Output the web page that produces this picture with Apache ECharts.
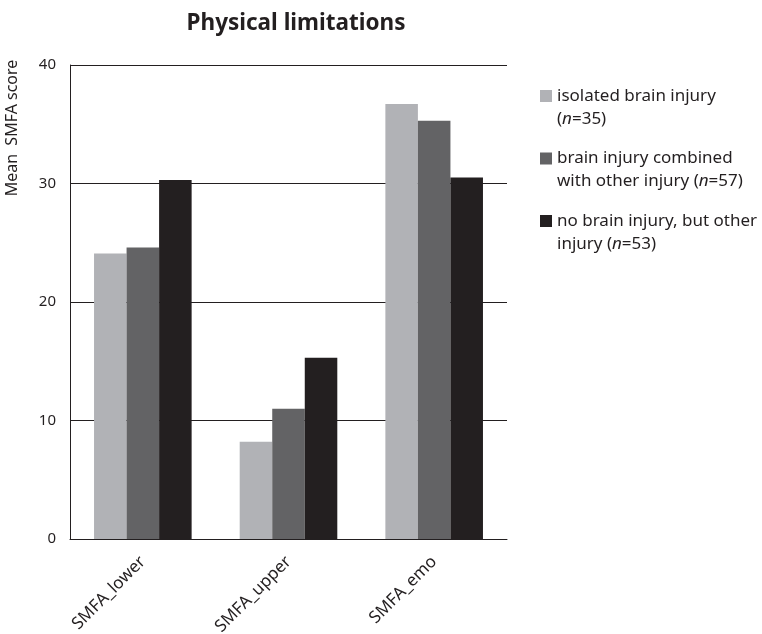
<!DOCTYPE html>
<html>
<head>
<meta charset="utf-8">
<script src="https://cdn.jsdelivr.net/npm/echarts@6/dist/echarts.min.js"></script>
<style>html,body{margin:0;padding:0;background:#fff}#c{width:762px;height:634px}</style>
</head>
<body>
<div id="c"></div>
<script>
var categories = ['SMFA_lower', 'SMFA_upper', 'SMFA_emo'];
var seriesNames = ['isolated brain injury', 'brain injury combined with other injury', 'no brain injury, but other injury'];
var isolatedBrain = [24.1, 8.2, 36.7];
var brainCombined = [24.6, 11.0, 35.3];
var noBrain = [30.3, 15.3, 30.5];
var yTicks = [0, 10, 20, 30, 40];

var legendLabels = {};
legendLabels[seriesNames[0]] = '{a|isolated brain injury}\n{a|(}{i|n}{a|=35)}';
legendLabels[seriesNames[1]] = '{a|brain injury combined}\n{a|with other injury (}{i|n}{a|=57)}';
legendLabels[seriesNames[2]] = '{a|no brain injury, but other}\n{a|injury (}{i|n}{a|=53)}';

var font = 'Noto Sans';
var ink = '#231f20';
var chart = echarts.init(document.getElementById('c'));
chart.setOption({
  animation: false,
  title: {
    text: 'Physical limitations', left: 291, top: 7, textAlign: 'center',
    textStyle: {fontFamily: font, fontWeight: 'bold', fontSize: 22.5, color: ink}
  },
  legend: {
    orient: 'vertical', left: 540, top: 87.5, padding: 0, itemWidth: 12, itemHeight: 12, itemGap: 22.5,
    icon: 'rect',
    formatter: function (n) { return legendLabels[n]; },
    textStyle: {
      fontFamily: font, fontSize: 17, color: ink, padding: [23, 0, 0, 0],
      rich: {
        a: {fontFamily: font, fontSize: 17, color: ink, lineHeight: 23},
        i: {fontFamily: font, fontSize: 17, color: ink, fontStyle: 'italic', lineHeight: 23}
      }
    }
  },
  graphic: [{
    type: 'text', x: 12, y: 128, rotation: Math.PI / 2,
    style: {text: 'Mean  SMFA score', fontFamily: font, fontSize: 16, fill: ink, align: 'center', verticalAlign: 'middle'}
  }],
  grid: {left: 70, right: 255, top: 65, bottom: 95, containLabel: false, outerBoundsMode: 'none'},
  xAxis: {
    type: 'category', data: categories,
    axisLine: {lineStyle: {color: ink, width: 1}},
    axisTick: {show: false},
    axisLabel: {rotate: 45, fontFamily: font, fontSize: 17, color: ink, margin: 20}
  },
  yAxis: {
    type: 'value', min: yTicks[0], max: yTicks[yTicks.length - 1], interval: 10,
    axisLine: {show: true, lineStyle: {color: ink, width: 1}},
    axisTick: {show: false},
    axisLabel: {fontFamily: font, fontSize: 15, color: ink, margin: 14},
    splitLine: {lineStyle: {color: ink, width: 1}}
  },
  series: [
    {name: seriesNames[0], type: 'bar', data: isolatedBrain, itemStyle: {color: '#b1b2b6'}, barGap: '0%', barCategoryGap: '33%'},
    {name: seriesNames[1], type: 'bar', data: brainCombined, itemStyle: {color: '#636365'}, barGap: '0%', barCategoryGap: '33%'},
    {name: seriesNames[2], type: 'bar', data: noBrain, itemStyle: {color: ink}, barGap: '0%', barCategoryGap: '33%'}
  ]
});
</script>
</body>
</html>
